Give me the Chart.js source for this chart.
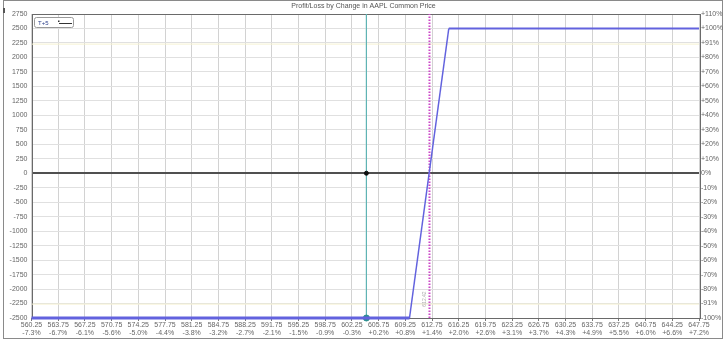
<!DOCTYPE html>
<html>
<head>
<meta charset="utf-8">
<script src="https://cdn.jsdelivr.net/npm/chart.js@4"></script>
<style>
html,body{margin:0;padding:0;background:#fff;}
#wrap{width:727px;height:345px;position:relative;}
</style>
</head>
<body>
<div id="wrap"><canvas id="c" width="727" height="345"></canvas></div>
<script>
// ---- data ----
const chartTitle = 'Profit/Loss by Change in AAPL Common Price';
const legendLabel = 'T+5';
const xTicks = [560.25, 563.75, 567.25, 570.75, 574.25, 577.75, 581.25, 584.75, 588.25, 591.75,
  595.25, 598.75, 602.25, 605.75, 609.25, 612.75, 616.25, 619.75, 623.25, 626.75,
  630.25, 633.75, 637.25, 640.75, 644.25, 647.75];
const xPctLabels = ['-7.3%', '-6.7%', '-6.1%', '-5.6%', '-5.0%', '-4.4%', '-3.8%', '-3.2%', '-2.7%', '-2.1%',
  '-1.5%', '-0.9%', '-0.3%', '+0.2%', '+0.8%', '+1.4%', '+2.0%', '+2.6%', '+3.1%', '+3.7%',
  '+4.3%', '+4.9%', '+5.5%', '+6.0%', '+6.6%', '+7.2%'];
const yTicks = [2750, 2500, 2250, 2000, 1750, 1500, 1250, 1000, 750, 500, 250, 0,
  -250, -500, -750, -1000, -1250, -1500, -1750, -2000, -2250, -2500];
const yPctLabels = ['+110%', '+100%', '+91%', '+80%', '+70%', '+60%', '+50%', '+40%', '+30%', '+20%', '+10%', '0%',
  '-10%', '-20%', '-30%', '-40%', '-50%', '-60%', '-70%', '-80%', '-91%', '-100%'];
const payoffPrices = [560.25, 609.8, 614.95, 647.75];
const payoffValues = [-2500, -2500, 2500, 2500];
const currentPrice = 604.15;
const breakEvenPrice = 612.42;
const breakEvenLabel = '612.42';
const guideLevels = [2230, -2260];

// ---- chart ----
const xMin = xTicks[0], xMax = xTicks[xTicks.length - 1];
const yMin = Math.min(...yTicks), yMax = Math.max(...yTicks);
const FONT = 'Liberation Sans, Arial, sans-serif';

const payoffData = payoffPrices.map((p, i) => ({x: p, y: payoffValues[i]}));

const datasets = [
  {label: legendLabel, data: payoffData, showLine: true, borderColor: '#6262de', borderWidth: 2,
   pointRadius: 0, fill: false, clip: 6,
   segment: {borderWidth: c => (c.p0.parsed.y === c.p1.parsed.y ? (c.p0.parsed.y < 0 ? 3 : 2) : 1.5)}},
  {label: 'dot0', data: [{x: currentPrice, y: 0}], pointRadius: 2, pointBackgroundColor: '#111',
   pointBorderColor: '#111', showLine: false, clip: 6},
  {label: 'dotMin', data: [{x: currentPrice, y: yMin}], pointRadius: 3, pointBackgroundColor: '#2a8f8f',
   pointBorderColor: '#2a8f8f', showLine: false, clip: 6},
  {label: 'current', data: [{x: currentPrice, y: yMin}, {x: currentPrice, y: yMax}], showLine: true,
   borderColor: '#5eb4b4', borderWidth: 1.2, pointRadius: 0},
  {label: 'breakeven', data: [{x: breakEvenPrice, y: yMin}, {x: breakEvenPrice, y: yMax}], showLine: true,
   borderColor: '#cc48c8', borderWidth: 2, borderDash: [1.5, 1.5], pointRadius: 0},
];
guideLevels.forEach((lv, i) => {
  datasets.push({label: 'guide' + i, data: [{x: xMin, y: lv}, {x: xMax, y: lv}], showLine: true,
    borderColor: '#f6f2d2', borderWidth: 1, pointRadius: 0});
});

const framePlugin = {
  id: 'frame',
  beforeDraw(chart) {
    const ctx = chart.ctx;
    ctx.save();
    ctx.fillStyle = '#fff';
    ctx.fillRect(0, 0, chart.width, chart.height);
    ctx.strokeStyle = '#8a8a8a';
    ctx.lineWidth = 1;
    ctx.strokeRect(3.5, 0.5, 719, 338);
    ctx.fillStyle = '#555';
    ctx.fillRect(3, 8, 2, 5);
    ctx.restore();
  },
  beforeDatasetsDraw(chart) {
    const ctx = chart.ctx;
    const a = chart.chartArea;
    ctx.save();
    ctx.strokeStyle = '#6a6a6a';
    ctx.lineWidth = 1;
    ctx.strokeRect(Math.round(a.left) + 0.5, Math.round(a.top) + 0.5,
      Math.round(a.right - a.left), Math.round(a.bottom - a.top));
    ctx.restore();
  },
  afterDraw(chart) {
    const ctx = chart.ctx;
    ctx.save();
    // legend box
    const lx = 34.5, ly = 17.5, lw = 39, lh = 10;
    ctx.fillStyle = '#fff';
    ctx.strokeStyle = '#9a9a9a';
    ctx.lineWidth = 1;
    ctx.beginPath();
    if (ctx.roundRect) ctx.roundRect(lx, ly, lw, lh, 2); else ctx.rect(lx, ly, lw, lh);
    ctx.fill();
    ctx.stroke();
    ctx.fillStyle = '#2b3f8a';
    ctx.font = '6px ' + FONT;
    ctx.textBaseline = 'middle';
    ctx.textAlign = 'left';
    ctx.fillText(legendLabel, 38, ly + lh / 2 + 0.5);
    ctx.strokeStyle = '#333';
    ctx.beginPath();
    ctx.moveTo(59, 23.5);
    ctx.lineTo(72, 23.5);
    ctx.stroke();
    ctx.fillStyle = '#333';
    ctx.fillRect(58, 20.5, 1.5, 1.5);
    // breakeven small rotated text
    const bx = chart.scales.x.getPixelForValue(breakEvenPrice);
    const by = chart.scales.y.getPixelForValue(yMin);
    ctx.translate(bx - 5, by - 19);
    ctx.rotate(-Math.PI / 2);
    ctx.fillStyle = '#b0b0b0';
    ctx.font = '5px ' + FONT;
    ctx.textAlign = 'center';
    ctx.fillText(breakEvenLabel, 0, 0);
    ctx.restore();
  }
};

new Chart(document.getElementById('c'), {
  type: 'scatter',
  data: {datasets},
  options: {
    responsive: false,
    animation: false,
    events: [],
    layout: {padding: {left: 0, right: 0, top: 0, bottom: 0}},
    plugins: {
      legend: {display: false},
      tooltip: {enabled: false},
      title: {display: true, text: chartTitle, color: '#555',
        font: {family: FONT, size: 7, weight: 'normal', lineHeight: 1.2}, padding: {top: 2, bottom: 3.6}}
    },
    scales: {
      x: {
        type: 'linear', min: xMin, max: xMax,
        afterBuildTicks: s => { s.ticks = xTicks.map(v => ({value: v})); },
        afterFit: s => { s.height = 27; },
        border: {display: false},
        grid: {color: '#d2d2d2', lineWidth: 1, drawTicks: true, tickLength: 3, tickColor: '#777'},
        ticks: {
          autoSkip: false, maxRotation: 0, minRotation: 0, padding: 0, color: '#666',
          font: {family: FONT, size: 7, lineHeight: 1.15},
          callback: (v, i) => [xTicks[i].toFixed(2), xPctLabels[i]]
        }
      },
      y: {
        type: 'linear', position: 'left', min: yMin, max: yMax,
        afterBuildTicks: s => { s.ticks = yTicks.map(v => ({value: v})); },
        afterFit: s => { s.width = 31.5; },
        border: {display: false},
        grid: {
          drawTicks: false,
          color: c => (c.tick && c.tick.value === 0) ? '#505050' : '#e0e0e0',
          lineWidth: c => (c.tick && c.tick.value === 0) ? 2 : 1
        },
        ticks: {padding: 4, color: '#666', font: {family: FONT, size: 7},
          callback: v => String(v)}
      },
      y2: {
        type: 'linear', position: 'right', min: yMin, max: yMax,
        afterBuildTicks: s => { s.ticks = yTicks.map(v => ({value: v})); },
        afterFit: s => { s.width = 28; },
        border: {display: false},
        grid: {display: false, drawTicks: false},
        ticks: {padding: 2, color: '#666', font: {family: FONT, size: 7},
          callback: (v, i) => yPctLabels[yTicks.indexOf(v)]}
      }
    }
  },
  plugins: [framePlugin]
});
</script>
</body>
</html>
